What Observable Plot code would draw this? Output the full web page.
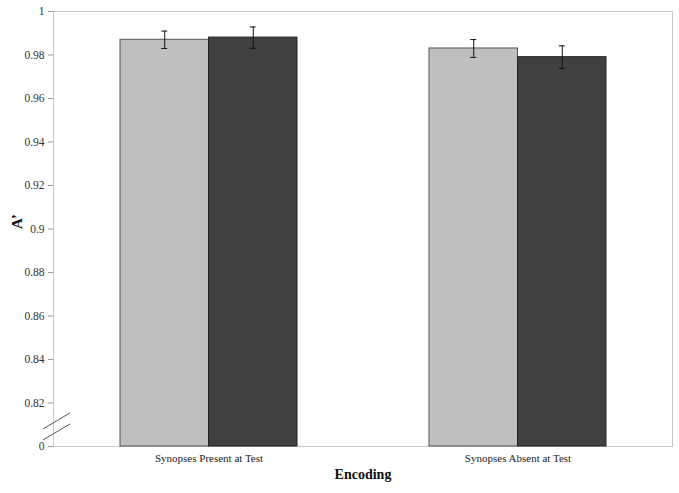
<!DOCTYPE html>
<html>
<head>
<meta charset="utf-8">
<script src="https://cdn.jsdelivr.net/npm/d3@7"></script>
<script src="https://cdn.jsdelivr.net/npm/@observablehq/plot@0.6"></script>
<style>
  html, body { margin: 0; padding: 0; background: #fff; }
</style>
</head>
<body>
<div id="chart"></div>
<script>
const categories = ["Synopses Present at Test", "Synopses Absent at Test"];
const lightValues = [0.987, 0.983];
const darkValues = [0.988, 0.979];
const lightErr = [0.0040, 0.0041];
const darkErr = [0.0049, 0.0052];
const yFloor = 0.80; // axis break: shown as "0"
const yTicks = [0.80, 0.82, 0.84, 0.86, 0.88, 0.90, 0.92, 0.94, 0.96, 0.98, 1.00];
const yTickLabels = ["0", "0.82", "0.84", "0.86", "0.88", "0.9", "0.92", "0.94", "0.96", "0.98", "1"];

const light = categories.map((c, i) => ({cat: c, v: lightValues[i], e: lightErr[i]}));
const dark = categories.map((c, i) => ({cat: c, v: darkValues[i], e: darkErr[i]}));

const W = 679, H = 493, ML = 53, MR = 7, MT = 11, MB = 47;
const padIn = 0.428, padOut = 0.214;
const step = (W - ML - MR) / (categories.length - padIn + 2 * padOut);
const bw = step * (1 - padIn);
const half = bw / 2, q = bw / 4, cap = 3;

const serif = "Liberation Serif";

const breakMark = (index, scales, values, dims) => {
  const g = d3.create("svg:g");
  const x0 = dims.marginLeft;
  const yb = scales.y(0.8106);
  for (const off of [0, 11]) {
    g.append("line")
      .attr("x1", x0 - 10).attr("y1", yb + off + 6)
      .attr("x2", x0 + 17).attr("y2", yb + off - 10)
      .attr("stroke", "#555").attr("stroke-width", 1);
  }
  return g.node();
};

const chart = Plot.plot({
  width: W, height: H,
  marginLeft: ML, marginRight: MR, marginTop: MT, marginBottom: MB,
  style: {fontFamily: serif, fontSize: "11px", color: "#222", background: "#fff"},
  x: {domain: categories, paddingInner: padIn, paddingOuter: padOut, align: 0.5, axis: null},
  y: {domain: [yFloor, 1], axis: null},
  marks: [
    Plot.frame({stroke: "#c8c8c8"}),
    Plot.axisY({ticks: yTicks, tickFormat: d => yTickLabels[yTicks.indexOf(d)], tickSize: 5, tickPadding: 4, stroke: "#999", fill: "#333", fontSize: 11.5, fontFamily: serif, label: null}),
    Plot.axisX({tickSize: 0, tickPadding: 8, fill: "#222", fontSize: 11, fontFamily: serif, label: null}),
    Plot.barY(light, {x: "cat", y1: yFloor, y2: "v", fill: "#bfbfbf", stroke: "#555", strokeWidth: 1, insetRight: half}),
    Plot.barY(dark, {x: "cat", y1: yFloor, y2: "v", fill: "#404040", stroke: "#222", strokeWidth: 1, insetLeft: half}),
    Plot.ruleX(light, {x: "cat", y1: d => d.v - d.e, y2: d => d.v + d.e, dx: -q, stroke: "#111", strokeWidth: 1}),
    Plot.ruleX(dark, {x: "cat", y1: d => d.v - d.e, y2: d => d.v + d.e, dx: q, stroke: "#111", strokeWidth: 1}),
    Plot.tickY(light, {x: "cat", y: d => d.v + d.e, insetLeft: q - cap, insetRight: 3 * q - cap, stroke: "#111"}),
    Plot.tickY(light, {x: "cat", y: d => d.v - d.e, insetLeft: q - cap, insetRight: 3 * q - cap, stroke: "#111"}),
    Plot.tickY(dark, {x: "cat", y: d => d.v + d.e, insetLeft: 3 * q - cap, insetRight: q - cap, stroke: "#111"}),
    Plot.tickY(dark, {x: "cat", y: d => d.v - d.e, insetLeft: 3 * q - cap, insetRight: q - cap, stroke: "#111"}),
    breakMark,
    Plot.text(["A\u2019"], {frameAnchor: "left", dx: -36, rotate: -90, fontWeight: "bold", fontSize: 15, fontFamily: serif, fill: "#111"}),
    Plot.text(["Encoding"], {frameAnchor: "bottom", dy: 32, fontWeight: "bold", fontSize: 14, fontFamily: serif, fill: "#111"})
  ]
});
document.getElementById("chart").append(chart);
</script>
</body>
</html>
